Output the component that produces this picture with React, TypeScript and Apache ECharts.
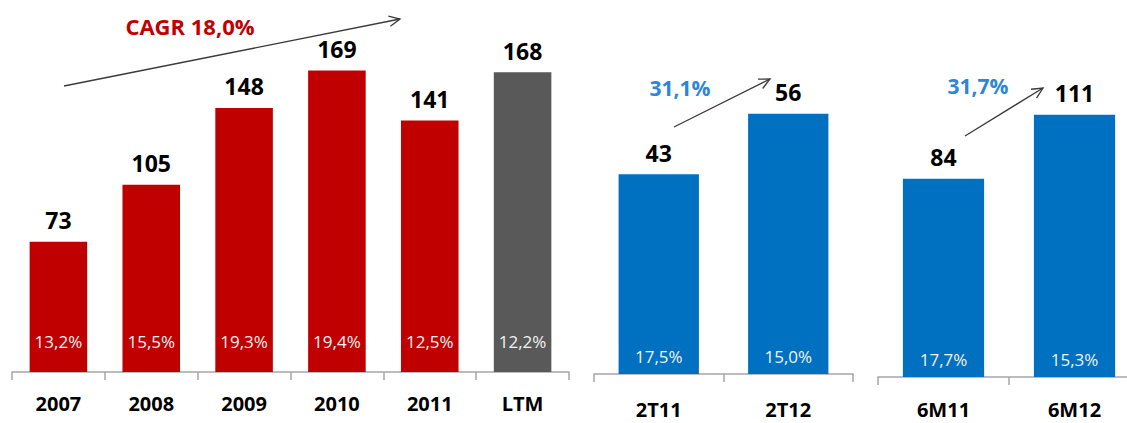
import React, { useEffect, useRef } from "react";
import * as echarts from "echarts";

// ---- data ----
const annualCategories = ["2007", "2008", "2009", "2010", "2011", "LTM"];
const annualValues = [73, 105, 148, 169, 141, 168];
const annualMargins = ["13,2%", "15,5%", "19,3%", "19,4%", "12,5%", "12,2%"];

const quarterCategories = ["2T11", "2T12"];
const quarterValues = [43, 56];
const quarterMargins = ["17,5%", "15,0%"];

const semesterCategories = ["6M11", "6M12"];
const semesterValues = [84, 111];
const semesterMargins = ["17,7%", "15,3%"];

const cagrLabel = "CAGR 18,0%";
const quarterGrowthLabel = "31,1%";
const semesterGrowthLabel = "31,7%";

// ---- styles ----
const FONT = "'Open Sans', 'Liberation Sans', Arial, sans-serif";
const RED = "#C00000";
const GRAY = "#595959";
const BLUE = "#0070C0";
const BLUE_TEXT = "#2E86D6";
const AXIS = "#A6A6A6";
const ARROW = "#3A3A3A";

function arrow(x1: number, y1: number, x2: number, y2: number) {
  const ang = Math.atan2(y2 - y1, x2 - x1);
  const L = 12;
  const a = Math.PI / 7;
  const p1 = [x2 - L * Math.cos(ang - a), y2 - L * Math.sin(ang - a)];
  const p2 = [x2 - L * Math.cos(ang + a), y2 - L * Math.sin(ang + a)];
  return [
    { type: "line", shape: { x1, y1, x2, y2 }, style: { stroke: ARROW, lineWidth: 1.3 }, z: 10 },
    {
      type: "polyline",
      shape: { points: [p1, [x2, y2], p2] },
      style: { stroke: ARROW, lineWidth: 1.3, fill: null },
      z: 10,
    },
  ];
}

function xAxisFor(idx: number, cats: string[], margin: number) {
  return {
    type: "category",
    gridIndex: idx,
    data: cats,
    axisLine: { show: true, lineStyle: { color: AXIS, width: 1.5 } },
    axisTick: { show: true, length: 8, alignWithLabel: false, lineStyle: { color: AXIS, width: 1.5 } },
    axisLabel: {
      margin,
      color: "#000",
      fontFamily: FONT,
      fontWeight: "bold",
      fontSize: 20,
      interval: 0,
    },
  };
}

function yAxisFor(idx: number, max: number) {
  return {
    type: "value",
    gridIndex: idx,
    min: 0,
    max,
    show: false,
    splitLine: { show: false },
  };
}

function seriesFor(
  idx: number,
  cats: string[],
  values: number[],
  margins: string[],
  color: (name: string) => string,
  innerDistance: number
) {
  return [
    {
      type: "bar",
      xAxisIndex: idx,
      yAxisIndex: idx,
      barWidth: "62%",
      barGap: "-100%",
      data: values,
      itemStyle: { color: (p: any) => color(cats[p.dataIndex]) },
      label: {
        show: true,
        position: "top",
        distance: 10,
        color: "#000",
        fontFamily: FONT,
        fontWeight: "bold",
        fontSize: 23,
      },
    },
    {
      type: "bar",
      xAxisIndex: idx,
      yAxisIndex: idx,
      barWidth: "62%",
      barGap: "-100%",
      data: values,
      itemStyle: { color: "transparent" },
      label: {
        show: true,
        position: "insideBottom",
        distance: innerDistance,
        color: "#F2F2F2",
        fontFamily: FONT,
        fontSize: 17,
        formatter: (p: any) => margins[p.dataIndex],
      },
    },
  ];
}

export default function App() {
  const ref = useRef<HTMLDivElement>(null);

  useEffect(() => {
    document.body.style.margin = "0";
    if (!ref.current) return;
    const chart = echarts.init(ref.current, null, { renderer: "svg" });

    const option: any = {
      animation: false,
      backgroundColor: "#FFFFFF",
      grid: [
        { left: 12, top: 33, width: 557, height: 339, outerBoundsMode: "none", containLabel: false },
        { left: 594, top: 72, width: 259, height: 302, outerBoundsMode: "none", containLabel: false },
        { left: 878, top: 70, width: 262, height: 307, outerBoundsMode: "none", containLabel: false },
      ],
      xAxis: [
        xAxisFor(0, annualCategories, 21),
        xAxisFor(1, quarterCategories, 25),
        xAxisFor(2, semesterCategories, 22),
      ],
      yAxis: [yAxisFor(0, 190), yAxisFor(1, 65), yAxisFor(2, 130)],
      series: [
        ...seriesFor(0, annualCategories, annualValues, annualMargins, (n) => (n === "LTM" ? GRAY : RED), 22),
        ...seriesFor(1, quarterCategories, quarterValues, quarterMargins, () => BLUE, 9),
        ...seriesFor(2, semesterCategories, semesterValues, semesterMargins, () => BLUE, 9),
      ],
      graphic: [
        ...arrow(64, 86, 400, 19),
        ...arrow(674, 127, 770, 79),
        ...arrow(965, 136, 1043, 88),
        {
          type: "text",
          x: 190,
          y: 26,
          z: 10,
          style: {
            text: cagrLabel,
            fill: RED,
            font: `bold 22px ${FONT}`,
            textAlign: "center",
            textVerticalAlign: "middle",
          },
        },
        {
          type: "text",
          x: 680,
          y: 88,
          z: 10,
          style: {
            text: quarterGrowthLabel,
            fill: BLUE_TEXT,
            font: `bold 21px ${FONT}`,
            textAlign: "center",
            textVerticalAlign: "middle",
          },
        },
        {
          type: "text",
          x: 978,
          y: 86,
          z: 10,
          style: {
            text: semesterGrowthLabel,
            fill: BLUE_TEXT,
            font: `bold 21px ${FONT}`,
            textAlign: "center",
            textVerticalAlign: "middle",
          },
        },
      ],
    };

    chart.setOption(option);
    return () => chart.dispose();
  }, []);

  return <div ref={ref} style={{ width: 1127, height: 423 }} />;
}
